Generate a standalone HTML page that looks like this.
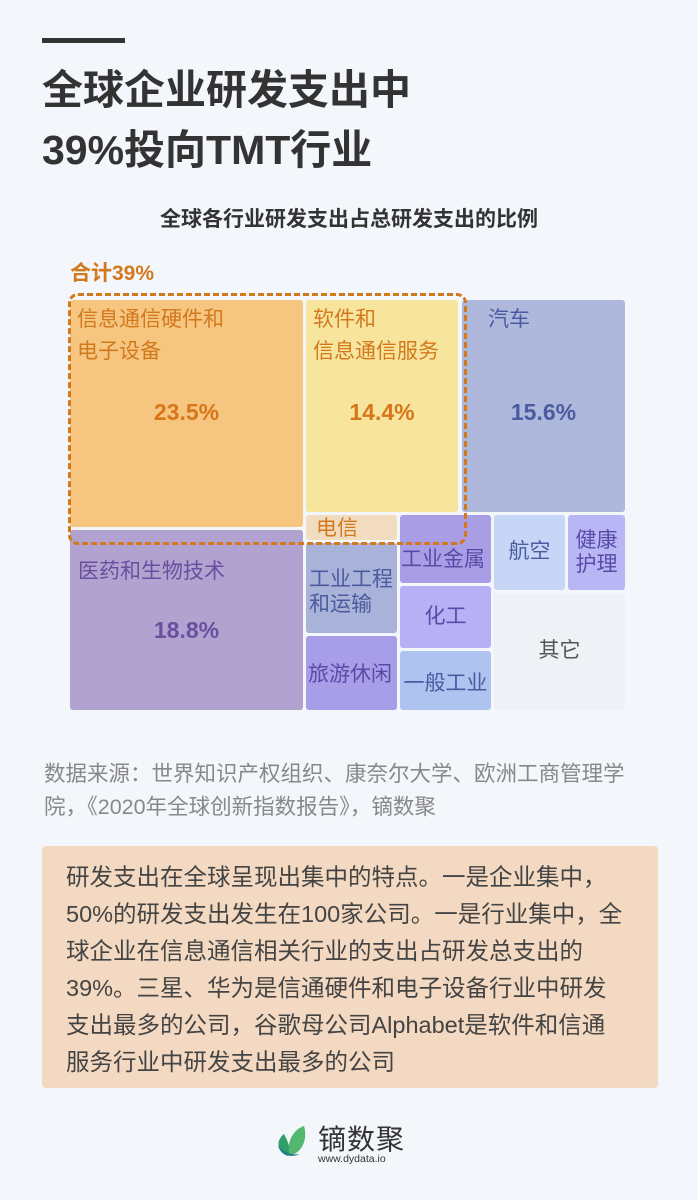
<!DOCTYPE html>
<html><head><meta charset="utf-8"><style>
body{margin:0;width:698px;height:1200px;background:#f3f6fa;font-family:"Liberation Sans","Noto Sans CJK SC",sans-serif;position:relative;overflow:hidden;color:#333}
.a{position:absolute}
.c{position:absolute;border-radius:3px;box-sizing:border-box;font-size:21px;line-height:32px;white-space:nowrap}
.p{position:absolute;font-weight:bold;font-size:23px;width:100%;text-align:center}
</style></head><body>
<div class="a" style="left:42px;top:38px;width:83px;height:5px;background:#333"></div>
<div class="a" style="left:42px;top:60px;font-size:41px;font-weight:bold;line-height:60px;color:#333">全球企业研发支出中<br>39%投向TMT行业</div>
<div class="a" style="left:0;width:698px;top:203px;text-align:center;font-size:21px;font-weight:bold;color:#333">全球各行业研发支出占总研发支出的比例</div>
<div class="a" style="left:70px;top:257px;font-size:21px;font-weight:bold;color:#d4781c">合计39%</div>

<div class="c" style="left:70px;top:300px;width:233px;height:227px;background:#f6c57f;color:#d2791e;padding:4px 7px">信息通信硬件和<br>电子设备<div class="p" style="left:0;top:96px;color:#d8761a">23.5%</div></div>
<div class="c" style="left:306px;top:300px;width:152px;height:212px;background:#f7e59e;color:#d2791e;padding:4px 7px">软件和<br>信息通信服务<div class="p" style="left:0;top:96px;color:#d8761a">14.4%</div></div>
<div class="c" style="left:462px;top:300px;width:163px;height:212px;background:#aeb8dc;color:#4c5ba0;padding:4px 26px">汽车<div class="p" style="left:0;top:96px;color:#4c5ba0">15.6%</div></div>
<div class="c" style="left:306px;top:515px;width:91px;height:25px;background:#f2dcc0;color:#d2791e;padding:0 10px;line-height:28px">电信</div>
<div class="c" style="left:70px;top:530px;width:233px;height:180px;background:#b1a2cf;color:#6a4fa0;padding:26px 8px 0">医药和生物技术<div class="p" style="left:0;top:84px;color:#6a4fa0">18.8%</div></div>
<div class="c" style="left:306px;top:543px;width:91px;height:90px;background:#a9b2d8;color:#4c5ba0;padding:24px 0 0 3px;line-height:25px">工业工程<br>和运输</div>
<div class="c" style="left:306px;top:636px;width:91px;height:74px;background:#a89ee8;color:#5a4aa8;padding:23px 0 0 2px">旅游休闲</div>
<div class="c" style="left:400px;top:515px;width:91px;height:68px;background:#a99ee6;color:#5a4aa8;padding:33px 0 0 1px;line-height:24px">工业金属</div>
<div class="c" style="left:400px;top:586px;width:91px;height:62px;background:#b8b0f4;color:#5a4aa8;padding:15px 0 0;text-align:center">化工</div>
<div class="c" style="left:400px;top:651px;width:91px;height:59px;background:#aec3ef;color:#4c5ba0;padding:17px 0 0;text-align:center">一般工业</div>
<div class="c" style="left:494px;top:515px;width:71px;height:75px;background:#c7d6f6;color:#4c5ba0;padding:21px 0 0;text-align:center">航空</div>
<div class="c" style="left:568px;top:515px;width:57px;height:75px;background:#b8b6f4;color:#5a4aa8;padding:14px 0 0;text-align:center;line-height:24px">健康<br>护理</div>
<div class="c" style="left:494px;top:593px;width:131px;height:117px;background:#eef1f5;color:#555;padding:42px 0 0;text-align:center">其它</div>
<div class="a" style="left:68px;top:293px;width:393px;height:246px;border:3px dashed #d4781c;border-radius:10px"></div>

<div class="a" style="left:44px;top:758px;width:600px;font-size:21.5px;line-height:33px;color:#888">数据来源：世界知识产权组织、康奈尔大学、欧洲工商管理学院，《2020年全球创新指数报告》，镝数聚</div>
<div class="a" style="left:42px;top:846px;width:616px;height:242px;background:#f3d9c1;border-radius:4px;box-sizing:border-box;padding:13px 0 0 24px;font-size:23.5px;line-height:37px;color:#444;white-space:nowrap">研发支出在全球呈现出集中的特点。一是企业集中，<br>50%的研发支出发生在100家公司。一是行业集中，全<br>球企业在信息通信相关行业的支出占研发总支出的<br>39%。三星、华为是信通硬件和电子设备行业中研发<br>支出最多的公司，谷歌母公司Alphabet是软件和信通<br>服务行业中研发支出最多的公司</div>

<svg class="a" style="left:274px;top:1122px" width="38" height="38" viewBox="0 0 38 38"><path d="M14 34 C2 30 2 18 10 12 C14 20 18 28 14 34Z" fill="#2e9e6a"/><path d="M16 34 C12 22 18 8 30 4 C34 18 28 30 16 34Z" fill="#52b86e"/><path d="M4 24 C10 30 18 34 26 32 C18 36 8 34 4 24Z" fill="#1f7c8a"/></svg>
<div class="a" style="left:318px;top:1118px;font-size:28px;color:#333;letter-spacing:1px">镝数聚</div>
<div class="a" style="left:318px;top:1153px;font-size:10.5px;color:#333">www.dydata.io</div>
</body></html>
